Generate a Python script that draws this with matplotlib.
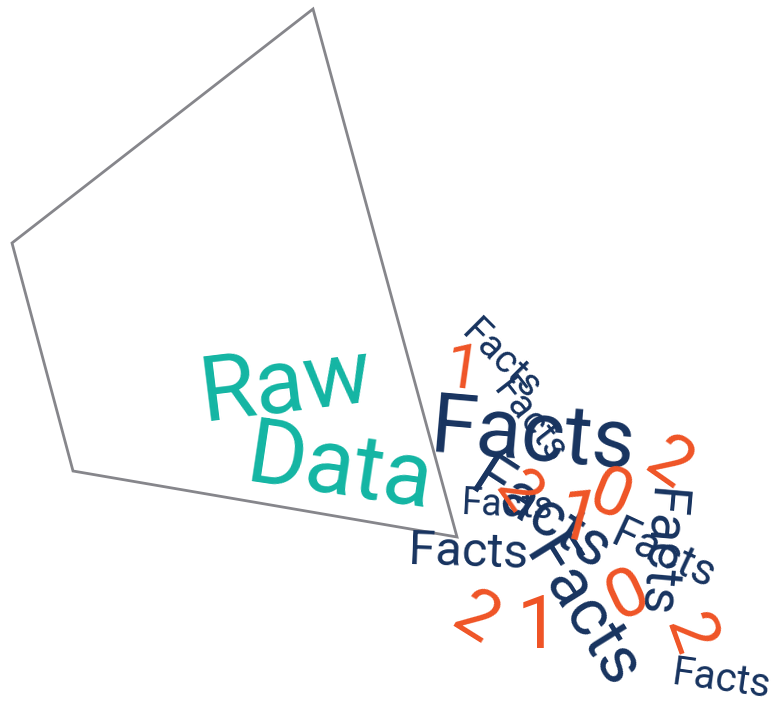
import matplotlib
matplotlib.use("Agg")
import matplotlib.pyplot as plt
from matplotlib.patches import Polygon

plt.rcParams['font.family'] = ['Roboto', 'DejaVu Sans']

# ---- data ----
frame_x = [313, 12, 73, 457]
frame_y = [9, 243, 471, 537]

raw_words = ["Raw", "Data"]
raw_x = [286, 340]
raw_y = [386, 470]
raw_size = [65, 65]
raw_rot = [7, -8.5]

fact_words = ["Facts"] * 10
fact_x = [501, 530, 532, 541, 582, 659, 663, 508, 468, 721]
fact_y = [360, 421, 437, 516, 614, 553, 555, 506, 553, 680]
fact_size = [28, 28, 60, 45, 48, 38, 32, 27, 35, 29]
fact_rot = [-45, -52, -5, -33, -58, -95, -25, -3, -2, -8]

digit_words = ["1", "2", "1", "0", "2", "0", "2", "2", "1"]
digit_x = [463, 517, 577, 610, 669, 628, 688, 475, 538]
digit_y = [372, 492, 521, 497, 465, 596, 635, 619, 627]
digit_size = [45, 44, 52, 50, 50, 50, 48, 50, 54]
digit_rot = [-8, -55, -15, -22, -35, 25, -70, -32, 0]

NAVY = "#17335f"
ORANGE = "#ef5426"
TEAL = "#13b5a3"
GRAY = "#86868b"

fig = plt.figure(figsize=(7.77, 7.06), dpi=100)
ax = fig.add_axes([0, 0, 1, 1])
ax.set_xlim(0, 777)
ax.set_ylim(706, 0)
ax.axis("off")

ax.add_patch(Polygon(list(zip(frame_x, frame_y)), closed=True, fill=False,
                     edgecolor=GRAY, linewidth=2.0, zorder=1))

for w, x, y, s, r in zip(raw_words, raw_x, raw_y, raw_size, raw_rot):
    ax.text(x, y, w, fontsize=s, rotation=r, color=TEAL, ha="center",
            va="center", rotation_mode="anchor", zorder=2)

for w, x, y, s, r in zip(fact_words, fact_x, fact_y, fact_size, fact_rot):
    ax.text(x, y, w, fontsize=s, rotation=r, color=NAVY, ha="center",
            va="center", rotation_mode="anchor", zorder=3)

for w, x, y, s, r in zip(digit_words, digit_x, digit_y, digit_size, digit_rot):
    ax.text(x, y, w, fontsize=s, rotation=r, color=ORANGE, ha="center",
            va="center", rotation_mode="anchor", zorder=4)

fig.savefig("out.png", dpi=100)
